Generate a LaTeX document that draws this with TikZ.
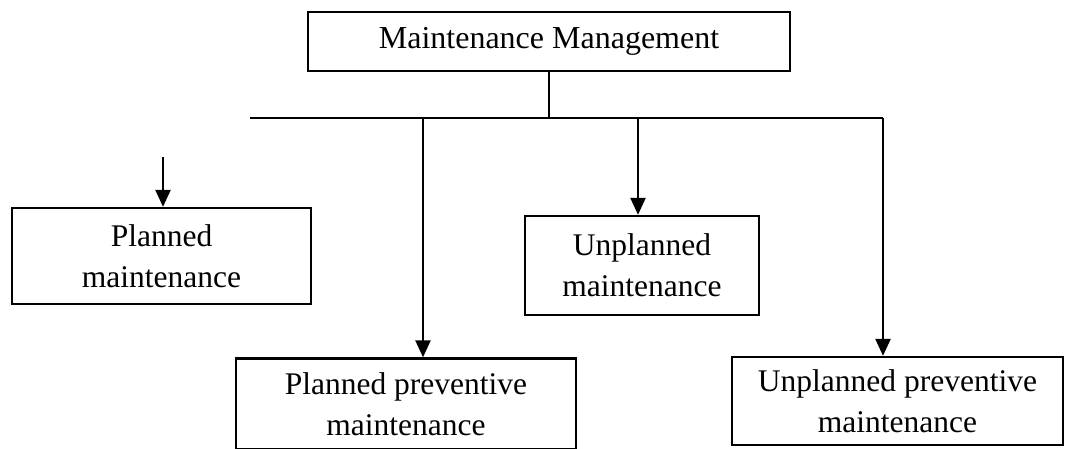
\documentclass[tikz,border=0pt]{standalone}
\usepackage{fontspec}
\setmainfont{Liberation Serif}
\usetikzlibrary{arrows.meta}
\begin{document}
\begin{tikzpicture}[x=1pt,y=1pt,
  box/.style={draw=black, line width=2.3pt, inner sep=0pt, align=center,
    font=\fontsize{31.5}{41}\selectfont},
  conn/.style={line width=2.3pt},
  arr/.style={line width=2.3pt, -{Triangle[length=17pt,width=15pt]}}]
\useasboundingbox (0,0) rectangle (1065,-448);
% boxes
\node[box, font=\fontsize{32}{40}\selectfont, minimum width=482pt, minimum height=59pt] (top) at (549,-41.5) {Maintenance Management};
\node[box, minimum width=299pt, minimum height=96pt] (pm) at (161.5,-256) {Planned\\maintenance};
\node[box, minimum width=234pt, minimum height=99pt] (um) at (642,-265.5) {Unplanned\\maintenance};
\node[box, minimum width=340pt, minimum height=91pt] (ppm) at (406,-404) {Planned preventive\\maintenance};
\node[box, minimum width=331pt, minimum height=88pt] (upm) at (897.5,-401) {Unplanned preventive\\maintenance};
% bar
\coordinate (barL) at (250,-118);
\coordinate (barR) at (883,-118);
\coordinate (barM) at (549,-118);
\coordinate (j1) at (423,-118);
\coordinate (j2) at (638,-118);
\coordinate (free) at (163,-157);
\draw[conn] (top.south) -- (barM);
\draw[conn] (barL) -- (barR);
\draw[arr] (j1) -- (j1 |- ppm.north);
\draw[arr] (j2) -- (j2 |- um.north);
\draw[arr] (barR) -- (barR |- upm.north);
\draw[arr] (free) -- (free |- pm.north);
\end{tikzpicture}
\end{document}
